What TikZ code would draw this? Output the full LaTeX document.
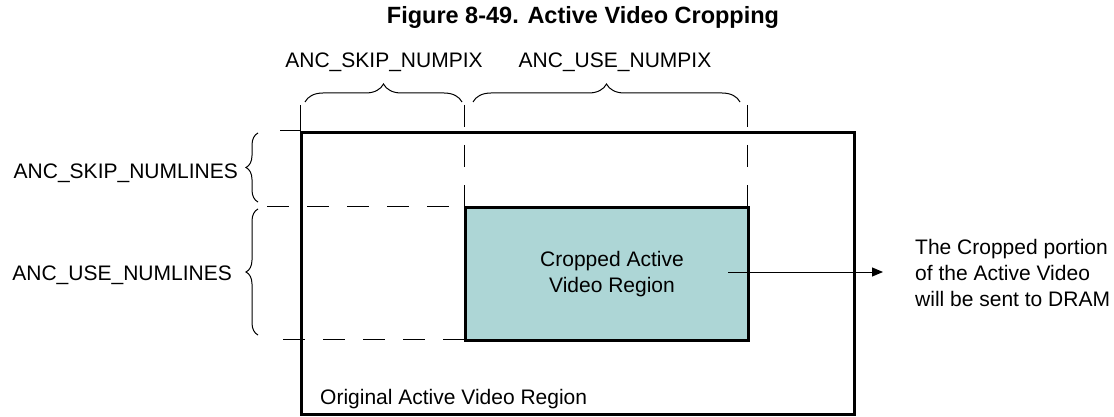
\documentclass[tikz,border=0pt]{standalone}
\usepackage{fontspec}
\setmainfont{Liberation Sans}
\usetikzlibrary{decorations.pathreplacing,arrows.meta}
\definecolor{cropfill}{HTML}{ADD6D6}
\tikzset{
  thickbox/.style={draw=black, line width=3pt, inner sep=0pt, anchor=north west},
  guide/.style={draw=black, line width=1pt, dash pattern=on 22pt off 18pt},
  thinline/.style={draw=black, line width=1pt},
  bracestyle/.style={draw=black, line width=1pt, decorate, decoration={brace, amplitude=#1}},
  lbl/.style={inner sep=0pt, font=\fontsize{21}{26}\selectfont},
}
\begin{document}
\begin{tikzpicture}[x=1pt,y=-1pt]
\useasboundingbox (0,0) rectangle (1114,417);
% title
\node[inner sep=0pt, anchor=base, font=\fontsize{23.5}{28}\selectfont\bfseries] (title) at (583,24) {Figure 8-49. Active Video Cropping};
% guide lines
\coordinate (g1) at (464,105);
\coordinate (g2) at (747,105);
\coordinate (t1) at (300,105);
\coordinate (t2) at (280,131);
\coordinate (h1) at (267,206);
\coordinate (h2) at (283,339);
% outer box
\node[thickbox, minimum width=553pt, minimum height=282pt] (orig) at (300,131) {};
\draw[thinline] (t1) -- (orig.north west);
\draw[thinline] (t2) -- (orig.north west);
\draw[guide] (g1) -- (464,206);
\draw[guide] (g2) -- (747,206);
\draw[guide] (h1) -- (464,206);
\draw[guide] (h2) -- (464,339);
% crop box
\node[thickbox, fill=cropfill, minimum width=283pt, minimum height=133pt] (crop) at (464,206) {};
\node[lbl, align=center] (croptxt) at (612,273.6) {Cropped Active\\Video Region};
\node[lbl, anchor=base west] (origtxt) at (320,404.5) {Original Active Video Region};
% braces
\draw[bracestyle=18] (305,102) -- (462,102);
\draw[bracestyle=18] (473,102) -- (740,102);
\draw[bracestyle=12] (258,202) -- (258,133);
\draw[bracestyle=12] (258,335) -- (258,209);
\node[lbl, anchor=base] (skippix) at (384,67.5) {ANC\_SKIP\_NUMPIX};
\node[lbl, anchor=base] (usepix) at (615,67.5) {ANC\_USE\_NUMPIX};
\node[lbl, anchor=base east] (skiplines) at (238,178.5) {ANC\_SKIP\_NUMLINES};
\node[lbl, anchor=base east] (uselines) at (232,280.5) {ANC\_USE\_NUMLINES};
% arrow
\node[lbl, align=left, anchor=west] (dram) at (915,273.1) {The Cropped portion\\of the Active Video\\will be sent to DRAM};
\coordinate (arrS) at (728,272);
\coordinate (arrE) at (883,272);
\draw[thinline, -{Triangle[length=11pt,width=9pt]}] (arrS) -- (arrE);
\end{tikzpicture}
\end{document}
